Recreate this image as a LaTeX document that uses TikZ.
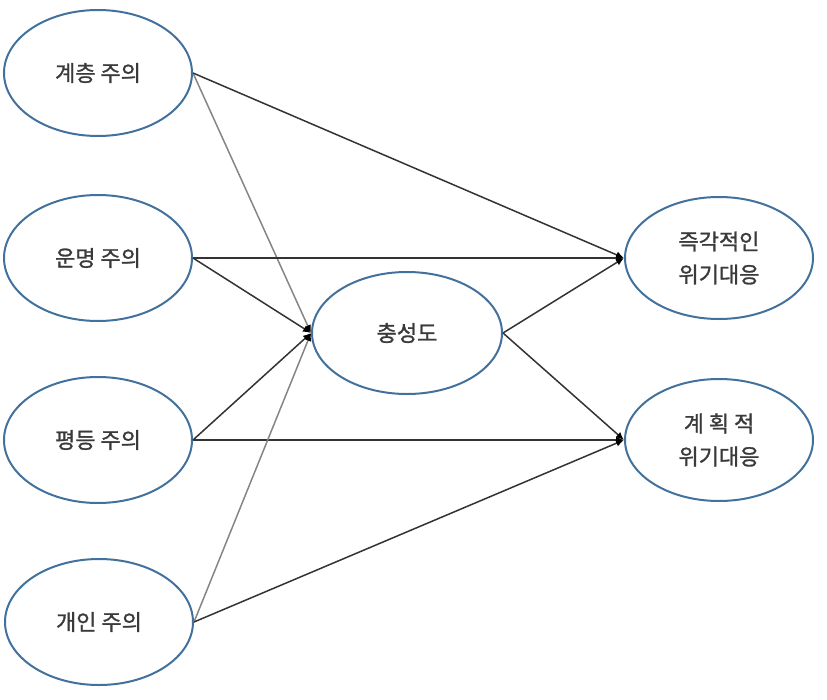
\documentclass[tikz,border=0pt]{standalone}
\usepackage{fontspec}
\newfontfamily\kr[FakeBold=1.2]{Noto Sans CJK KR}
\usetikzlibrary{shapes.geometric,arrows.meta}
\definecolor{ellblue}{HTML}{41719C}
\definecolor{txtgray}{HTML}{3A3A3A}
\definecolor{darkline}{HTML}{333333}
\definecolor{lightline}{HTML}{858585}
\tikzset{
  oval/.style={ellipse, draw=ellblue, line width=2, minimum width=188, minimum height=126, inner sep=0,
    font=\kr\fontsize{22}{33}\selectfont, text=txtgray, align=center},
  midoval/.style={oval, minimum width=190, minimum height=122},
  rightoval/.style={oval, minimum height=122},
  darkarrow/.style={draw=darkline, line width=1.5, -{Latex[length=8,width=7,color=black]}},
  lightarrow/.style={draw=lightline, line width=1.5, -{Latex[length=8,width=7,color=black]}}
}
\begin{document}
\begin{tikzpicture}[x=1pt,y=-1pt]
\useasboundingbox (0,0) rectangle (827,699);
\node[oval] (a) at (98,73) {계층 주의};
\node[oval] (b) at (98,258) {운명 주의};
\node[oval] (c) at (98,440) {평등 주의};
\node[oval] (d) at (99,622) {개인 주의};
\node[midoval] (m) at (407,333) {충성도};
\node[rightoval] (r1) at (719,258) {즉각적인\\위기대응};
\node[rightoval] (r2) at (719,440) {계 획 적\\위기대응};
\draw[lightarrow] (a.east) -- (m.west);
\draw[darkarrow] (a.east) -- (r1.west);
\draw[darkarrow] (b.east) -- (m.west);
\draw[darkarrow] (b.east) -- (r1.west);
\draw[darkarrow] (c.east) -- (m.west);
\draw[darkarrow] (c.east) -- (r2.west);
\draw[lightarrow] (d.east) -- (m.west);
\draw[darkarrow] (d.east) -- (r2.west);
\draw[darkarrow] (m.east) -- (r1.west);
\draw[darkarrow] (m.east) -- (r2.west);
\end{tikzpicture}
\end{document}
